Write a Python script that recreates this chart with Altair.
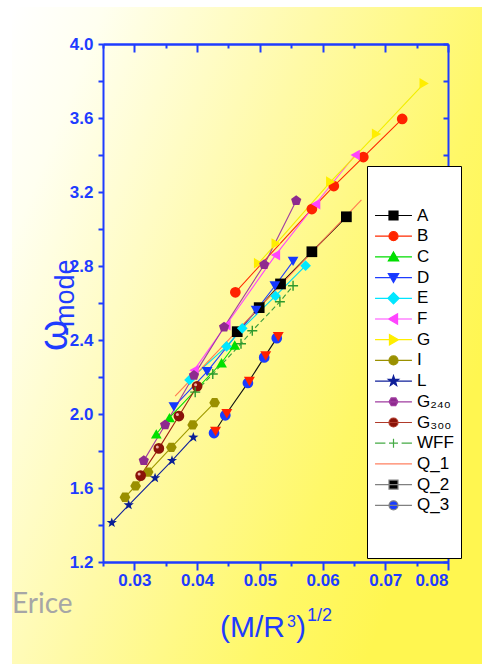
import altair as alt
import pandas as pd

# ---------------- measured points: x = (M/R^3)^(1/2), y = omega_mode ----------------
A_x = [0.0464, 0.0499, 0.0533, 0.0583, 0.0638]
A_y = [2.445, 2.575, 2.703, 2.877, 3.066]
B_x = [0.0461, 0.0583, 0.0618, 0.0665, 0.0727]
B_y = [2.658, 3.108, 3.232, 3.389, 3.595]
C_x = [0.0335, 0.0356, 0.0439, 0.0460]
C_y = [1.892, 1.980, 2.277, 2.373]
D_x = [0.0363, 0.0416, 0.0494, 0.0524, 0.0553]
D_y = [2.039, 2.229, 2.560, 2.692, 2.825]
E_x = [0.0388, 0.0447, 0.0472, 0.0525, 0.0573]
E_y = [2.184, 2.365, 2.463, 2.638, 2.802]
F_x = [0.0395, 0.0446, 0.0525, 0.0589, 0.0652]
F_y = [2.236, 2.480, 2.859, 3.135, 3.400]
G_x = [0.0498, 0.0526, 0.0613, 0.0686, 0.0762]
G_y = [2.815, 2.921, 3.256, 3.514, 3.787]
I_x = [0.0285, 0.0302, 0.0322, 0.0359, 0.0393, 0.0428]
I_y = [1.550, 1.611, 1.686, 1.820, 1.941, 2.061]
L_x = [0.0264, 0.0291, 0.0333, 0.0360, 0.0394]
L_y = [1.412, 1.508, 1.654, 1.748, 1.874]
G240_x = [0.0315, 0.0349, 0.0395, 0.0443, 0.0507, 0.0558]
G240_y = [1.748, 1.941, 2.209, 2.470, 2.807, 3.153]
G300_x = [0.0310, 0.0339, 0.0371, 0.0400]
G300_y = [1.667, 1.814, 1.989, 2.150]
WFF_x = [0.0397, 0.0425, 0.0470, 0.0488, 0.0532, 0.0553]
WFF_y = [2.118, 2.216, 2.380, 2.450, 2.607, 2.693]
Q1_x = [0.0365, 0.0662]
Q1_y = [2.097, 3.157]
Q3_x = [0.0427, 0.0445, 0.0481, 0.0507, 0.0527]
Q3_y = [1.897, 1.993, 2.168, 2.306, 2.410]

series_order = ["A", "B", "C", "D", "E", "F", "G", "I", "L",
                "G240", "G300", "WFF", "Q_1", "Q_2", "Q_3"]

# axis ticks and labels
x_major = [0.03, 0.04, 0.05, 0.06, 0.07, 0.08]
x_minor = [0.025, 0.035, 0.045, 0.055, 0.065, 0.075]
y_ticks = [1.2, 1.4, 1.6, 1.8, 2.0, 2.2, 2.4, 2.6, 2.8, 3.0, 3.2, 3.4, 3.6, 3.8, 4.0]

rows = []
for name, xs_, ys_ in [("A", A_x, A_y), ("B", B_x, B_y), ("C", C_x, C_y), ("D", D_x, D_y),
                       ("E", E_x, E_y), ("F", F_x, F_y), ("G", G_x, G_y), ("I", I_x, I_y),
                       ("L", L_x, L_y), ("G240", G240_x, G240_y), ("G300", G300_x, G300_y),
                       ("WFF", WFF_x, WFF_y), ("Q_1", Q1_x, Q1_y), ("Q_3", Q3_x, Q3_y)]:
    for i, (xv, yv) in enumerate(zip(xs_, ys_)):
        rows.append({"s": name, "x": xv, "y": yv, "i": i})
df = pd.DataFrame(rows)

W, H = 345, 518
BLUE = "#1e3cff"
FONT = "Liberation Sans"

xs = alt.Scale(domain=[0.025, 0.08], nice=False, zero=False)
ys = alt.Scale(domain=[1.2, 4.0], nice=False, zero=False)

# custom marker paths
HEX = "M-0.5,-0.866L0.5,-0.866L1,0L0.5,0.866L-0.5,0.866L-1,0Z"
STAR = ("M0,-1L0.235,-0.324L0.951,-0.309L0.38,0.124L0.588,0.809L0,0.4"
        "L-0.588,0.809L-0.38,0.124L-0.951,-0.309L-0.235,-0.324Z")
PENT = "M0,-1L0.951,-0.309L0.588,0.809L-0.588,0.809L-0.951,-0.309Z"
PLUS = "M-1,0H1M0,-1V1"

line_dom = ["A", "B", "C", "D", "E", "F", "G", "I", "L", "G240", "G300", "Q_1", "Q_3"]
line_col = ["#000000", "#ff2a00", "#00dd00", "#1e3cff", "#00d8f0", "#ff44ff", "#f2ee00",
            "#a09a00", "#10209a", "#a03ca0", "#a02010", "#ff7a50", "#111111"]

pt_dom = ["A", "B", "C", "D", "E", "F", "G", "I", "L", "G240", "G300", "Q_3"]
pt_col = ["#000000", "#ff2200", "#00e000", "#1438ff", "#00e8ff", "#ff44ff", "#ffee00",
          "#9a9000", "#0a1e96", "#8e2a8e", "#8a1208", "#1a3cff"]
pt_shape = ["square", "circle", "triangle-up", "triangle-down", "diamond", "triangle-left",
            "triangle-right", HEX, STAR, PENT, "circle", "circle"]

AX = dict(title=None, grid=False, zindex=2, domainColor=BLUE, domainWidth=2,
          tickColor=BLUE, tickWidth=2)

# background wash
bg = alt.Chart(alt.Data(values=[{}])).mark_rect(
    fill=alt.LinearGradient(
        gradient="linear", x1=0, y1=0, x2=1, y2=0.55,
        stops=[alt.GradientStop(color="#ffffff", offset=0),
               alt.GradientStop(color="#fffff0", offset=0.15),
               alt.GradientStop(color="#fffaa8", offset=0.5),
               alt.GradientStop(color="#fff868", offset=0.82),
               alt.GradientStop(color="#fff650", offset=1)]),
).encode(x=alt.value(-91), x2=alt.value(379), y=alt.value(-37), y2=alt.value(620))

# connecting lines (bottom x axis with labels, left y axis with labels)
lines = alt.Chart(df).transform_filter(
    alt.FieldOneOfPredicate(field="s", oneOf=line_dom)
).mark_line(strokeWidth=1.1).encode(
    x=alt.X("x:Q", scale=xs, axis=alt.Axis(values=x_major, format=".2f", tickSize=8,
                                           labelPadding=2, orient="bottom", **AX)),
    y=alt.Y("y:Q", scale=ys, axis=alt.Axis(
        values=y_ticks, tickSize=5, labelPadding=5, orient="left",
        labelExpr="abs(datum.value*2.5 - round(datum.value*2.5)) < 0.01 ? format(datum.value, '.1f') : ''",
        **AX)),
    color=alt.Color("s:N", scale=alt.Scale(domain=line_dom, range=line_col), legend=None),
    detail="s:N",
    order="i:Q",
)

wff_line = alt.Chart(df).transform_filter(alt.datum.s == "WFF").mark_line(
    strokeWidth=1.1, color="#3c9c3c", strokeDash=[5, 3]
).encode(
    x=alt.X("x:Q", scale=xs, axis=alt.Axis(values=x_major, tickSize=8, labels=False,
                                           orient="bottom", offset=-H, **AX)),
    y=alt.Y("y:Q", scale=ys, axis=None),
    order="i:Q",
)

points = alt.Chart(df).transform_filter(
    alt.FieldOneOfPredicate(field="s", oneOf=pt_dom)
).mark_point(filled=True, opacity=1, size=115).encode(
    x=alt.X("x:Q", scale=xs, axis=alt.Axis(values=x_minor, tickSize=4, labels=False,
                                           orient="bottom", **AX)),
    y=alt.Y("y:Q", scale=ys, axis=alt.Axis(values=y_ticks, tickSize=5, labels=False,
                                           orient="left", offset=-W, **AX)),
    color=alt.Color("s:N", scale=alt.Scale(domain=pt_dom, range=pt_col), legend=None),
    shape=alt.Shape("s:N", scale=alt.Scale(domain=pt_dom, range=pt_shape), legend=None),
)

wff_pts = alt.Chart(df).transform_filter(alt.datum.s == "WFF").mark_point(
    shape=PLUS, size=100, filled=False, color="#2e9a2e", strokeWidth=1.4, opacity=1
).encode(
    x=alt.X("x:Q", scale=xs, axis=alt.Axis(values=x_minor, tickSize=4, labels=False,
                                           orient="bottom", offset=-H, **AX)),
    y=alt.Y("y:Q", scale=ys, axis=None),
)

q3_tri = alt.Chart(df).transform_filter(alt.datum.s == "Q_3").mark_point(
    shape="triangle-down", filled=True, size=120, color="#ff2000", opacity=1,
    xOffset=1.5, yOffset=-1.5
).encode(x=alt.X("x:Q", scale=xs, axis=None), y=alt.Y("y:Q", scale=ys, axis=None))

g300_hl = alt.Chart(df).transform_filter(alt.datum.s == "G300").mark_point(
    shape="circle", filled=True, size=9, color="#f0b0a8", opacity=1,
    xOffset=-1.5, yOffset=-1.5
).encode(x=alt.X("x:Q", scale=xs, axis=None), y=alt.Y("y:Q", scale=ys, axis=None))

# legend: line + marker glyphs
LN = "M-4.1,0H4.1"
CIRC = "M1,0A1,1,0,1,1,-1,0A1,1,0,1,1,1,0Z"
SQ = "M-1,-1H1V1H-1Z"
leg_dom = series_order + ["pad"]
leg_shape = [LN + SQ, LN + CIRC, LN + "M0,-1.1L1.15,0.9H-1.15Z", LN + "M0,1.1L1.15,-0.9H-1.15Z",
             LN + "M0,-1.25L1.25,0L0,1.25L-1.25,0Z", LN + "M-1.1,0L0.9,-1.15V1.15Z",
             LN + "M1.1,0L-0.9,-1.15V1.15Z", LN + CIRC,
             LN + "M0,-1.2L0.28,-0.39L1.14,-0.37L0.46,0.15L0.7,0.97L0,0.48L-0.7,0.97L-0.46,0.15L-1.14,-0.37L-0.28,-0.39Z",
             LN + HEX, LN + CIRC, "M-4.1,0H-1.8M-1,0H1M0,-1V1M1.8,0H4.1", LN, LN + SQ, LN + CIRC,
             "M0,-3.2V3.2"]
leg_stroke = ["#000000", "#ff2a00", "#00dd00", "#1e3cff", "#00e5ff", "#ff44ff", "#ffee00",
              "#9a9000", "#10209a", "#a03ca0", "#b03a2a", "#44aa44", "#ff8060", "#808080",
              "#808080", "transparent"]
leg_fill = ["#000000", "#ff2200", "#00e000", "#1438ff", "#00e8ff", "#ff44ff", "#ffee00",
            "#9a9000", "#0a1e96", "#8e2a8e", "#8a1208", "transparent", "transparent",
            "#000000", "#1a3cff", "transparent"]

LEG = alt.Legend(
    orient="none", legendX=264, legendY=122, title=" ", titleFontSize=20, titlePadding=14,
    fillColor="#ffffff", strokeColor="#000000", padding=7, zindex=5,
    labelFont=FONT, labelFontSize=17, labelColor="#000000",
    symbolSize=81, symbolStrokeWidth=1.2, symbolOffset=11, labelOffset=15,
    rowPadding=2.7, symbolOpacity=1,
    labelExpr="datum.label == 'G240' ? 'G\u2082\u2084\u2080' : datum.label == 'G300' ? 'G\u2083\u2080\u2080' : datum.label == 'pad' ? '' : datum.label",
)
legend_layer = alt.Chart(alt.Data(values=[{"s": s} for s in series_order])).mark_point(
    opacity=0
).encode(
    fill=alt.Fill("s:N", scale=alt.Scale(domain=leg_dom, range=leg_fill), legend=LEG),
    stroke=alt.Stroke("s:N", scale=alt.Scale(domain=leg_dom, range=leg_stroke), legend=LEG),
    shape=alt.Shape("s:N", scale=alt.Scale(domain=leg_dom, range=leg_shape), legend=LEG),
)

# free text: watermark and axis titles
one = alt.Data(values=[{}])


def label(text, x, y, size, color=BLUE, font=FONT, angle=0, align="left"):
    return alt.Chart(one).mark_text(
        text=text, font=font, fontSize=size, color=color, align=align,
        baseline="alphabetic", angle=angle
    ).encode(x=alt.value(x), y=alt.value(y))


texts = [
    label("Erice", -91, 569, 28, color="#a6a6a6", font="Lato"),
    label("(M/R", 117, 593, 30),
    label("3", 184, 583, 16),
    label(")", 193, 593, 30),
    label("1/2", 204, 577, 18),
    label("\u03c9", -36, 307, 40, angle=270),
    label("-mode", -29, 292, 27, angle=270),
]

chart = alt.layer(
    bg, lines, wff_line, points, wff_pts, q3_tri, g300_hl, legend_layer, *texts
).resolve_scale(
    color="independent", shape="independent", fill="independent", stroke="independent"
).resolve_axis(
    x="independent", y="independent"
).properties(
    width=W, height=H,
    padding={"left": 103, "top": 44, "right": 34, "bottom": 102},
    autosize=alt.AutoSizeParams(type="none"),
    background="#ffffff",
).configure_view(
    stroke=None
).configure_axis(
    labelColor=BLUE, labelFont=FONT, labelFontSize=17, labelFontWeight="bold",
)

chart.save("out.html", embed_options={"renderer": "svg", "actions": False})
